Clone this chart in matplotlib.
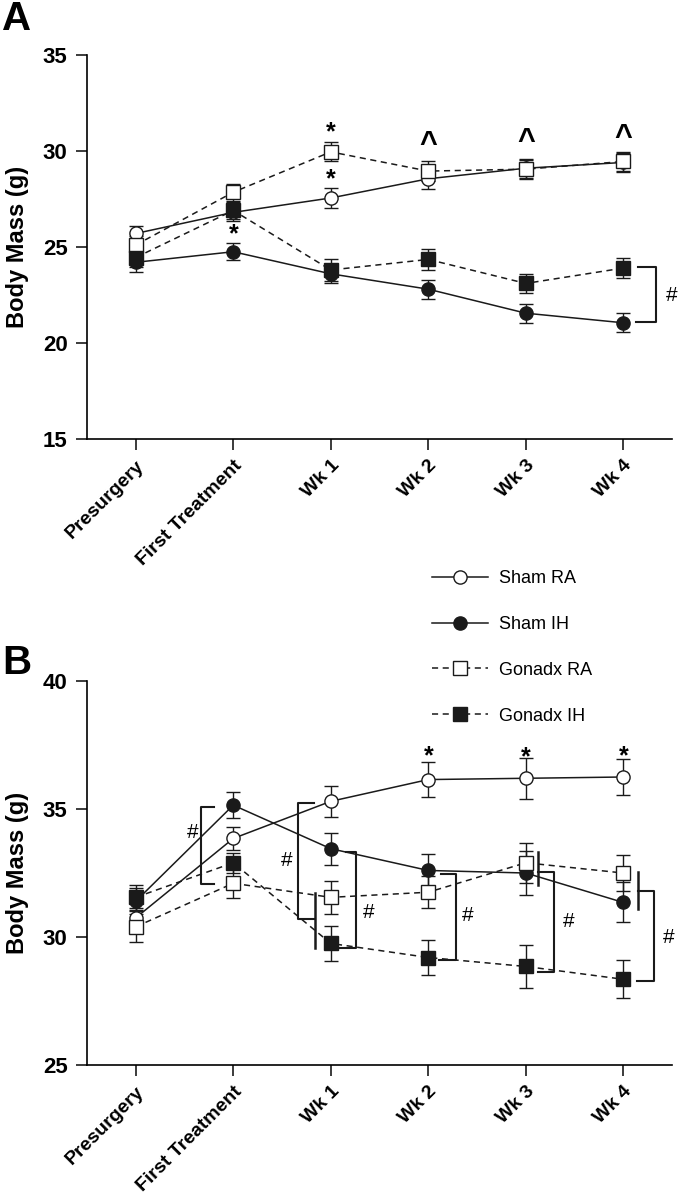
import matplotlib
matplotlib.use('Agg')
import matplotlib.pyplot as plt
from matplotlib.lines import Line2D

plt.rcParams['font.family'] = ['Liberation Sans', 'DejaVu Sans']

categories = ['Presurgery', 'First Treatment', 'Wk 1', 'Wk 2', 'Wk 3', 'Wk 4']
series_names = ['Sham RA', 'Sham IH', 'Gonadx RA', 'Gonadx IH']

# panel A body mass (g) and SEM
a_sham_ra = [25.7, 26.8, 27.55, 28.55, 29.1, 29.4]
a_sham_ih = [24.2, 24.75, 23.6, 22.8, 21.55, 21.05]
a_gon_ra = [25.1, 27.85, 29.95, 28.95, 29.05, 29.45]
a_gon_ih = [24.45, 26.9, 23.8, 24.35, 23.1, 23.9]
a_sham_ra_err = [0.4, 0.45, 0.5, 0.55, 0.5, 0.5]
a_sham_ih_err = [0.5, 0.45, 0.5, 0.5, 0.5, 0.5]
a_gon_ra_err = [0.45, 0.45, 0.5, 0.5, 0.5, 0.5]
a_gon_ih_err = [0.5, 0.45, 0.55, 0.55, 0.5, 0.5]

# panel B body mass (g) and SEM
b_sham_ra = [30.75, 33.85, 35.3, 36.15, 36.2, 36.25]
b_sham_ih = [31.4, 35.15, 33.45, 32.6, 32.5, 31.35]
b_gon_ra = [30.4, 32.1, 31.55, 31.75, 32.9, 32.5]
b_gon_ih = [31.55, 32.9, 29.75, 29.2, 28.85, 28.35]
b_sham_ra_err = [0.4, 0.45, 0.6, 0.7, 0.8, 0.7]
b_sham_ih_err = [0.5, 0.5, 0.62, 0.65, 0.85, 0.78]
b_gon_ra_err = [0.6, 0.58, 0.65, 0.62, 0.78, 0.7]
b_gon_ih_err = [0.5, 0.4, 0.7, 0.7, 0.85, 0.75]

# significance marks (x index, y value, symbol)
a_marks = [(2, 30.95, '*'), (2, 28.5, '*'), (1, 25.65, '*'),
           (3, 30.3, '^'), (4, 30.45, '^'), (5, 30.65, '^')]
b_marks = [(3, 37.05, '*'), (4, 37.0, '*'), (5, 37.05, '*')]

x = list(range(len(categories)))
styles = [dict(marker='o', mfc='white', ls='-'),
          dict(marker='o', mfc='#1a1a1a', ls='-'),
          dict(marker='s', mfc='white', ls=(0, (4, 3))),
          dict(marker='s', mfc='#1a1a1a', ls=(0, (4, 3)))]
ink = '#1a1a1a'

fig = plt.figure(figsize=(6.78, 12.04), dpi=100)
axA = fig.add_axes([0.1283, 0.6354, 0.863, 0.319])
axB = fig.add_axes([0.1283, 0.1154, 0.863, 0.319])


def draw(ax, vals, errs, ylim, yticks):
    handles = []
    for v, e, st in zip(vals, errs, styles):
        ax.errorbar(x, v, yerr=e, fmt='none', ecolor=ink, elinewidth=1.0,
                    capsize=5, capthick=1.0, zorder=2)
        h, = ax.plot(x, v, color=ink, lw=1.1, ls=st['ls'], marker=st['marker'],
                     ms=9.5, mfc=st['mfc'], mec=ink, mew=1.0, zorder=3)
        handles.append(h)
    ax.set_xlim(-0.5, 5.5)
    ax.set_ylim(*ylim)
    ax.set_yticks(yticks)
    ax.set_xticks(x)
    ax.set_xticklabels(categories, rotation=45, ha='right', va='top',
                       rotation_mode='anchor', fontweight='bold', fontsize=14)
    for t in ax.get_yticklabels():
        t.set_fontweight('bold')
        t.set_fontsize(16)
    ax.spines['top'].set_visible(False)
    ax.spines['right'].set_visible(False)
    ax.spines['left'].set_linewidth(1.2)
    ax.spines['bottom'].set_linewidth(1.2)
    ax.tick_params(axis='both', length=8, width=1.2, color=ink)
    ax.tick_params(axis='x', pad=5)
    ax.tick_params(axis='y', pad=6)
    ax.set_ylabel('Body Mass (g)', fontsize=17, fontweight='bold')
    ax.yaxis.set_label_coords(-0.099, 0.5)
    return handles


draw(axA, [a_sham_ra, a_sham_ih, a_gon_ra, a_gon_ih],
     [a_sham_ra_err, a_sham_ih_err, a_gon_ra_err, a_gon_ih_err],
     (15, 35), [15, 20, 25, 30, 35])
handles = draw(axB, [b_sham_ra, b_sham_ih, b_gon_ra, b_gon_ih],
               [b_sham_ra_err, b_sham_ih_err, b_gon_ra_err, b_gon_ih_err],
               (25, 40), [25, 30, 35, 40])

for xi, yi, s in a_marks:
    axA.text(xi, yi, s, ha='center', va='center',
             fontsize=18 if s == '*' else 22, fontweight='bold')
for xi, yi, s in b_marks:
    axB.text(xi, yi, s, ha='center', va='center', fontsize=18, fontweight='bold')


def seg(ax, xs, ys, lw=1.5):
    ax.plot(xs, ys, color=ink, lw=lw, clip_on=False, zorder=4)


# panel A bracket
seg(axA, [5.15, 5.34, 5.34, 5.13], [23.93, 23.93, 21.07, 21.07])
axA.text(5.5, 22.45, '#', ha='center', va='center', fontsize=15)

# panel B brackets
seg(axB, [0.80, 0.67, 0.67, 0.80], [35.08, 35.08, 32.07, 32.07])
axB.text(0.58, 34.1, '#', ha='center', va='center', fontsize=15)
seg(axB, [1.83, 1.66, 1.66, 1.83], [35.23, 35.23, 30.70, 30.70])
seg(axB, [1.84, 1.84], [31.72, 29.57], lw=1.8)
axB.text(1.55, 33.0, '#', ha='center', va='center', fontsize=15)
seg(axB, [2.16, 2.26, 2.26, 2.09], [33.32, 33.32, 29.57, 29.57])
axB.text(2.39, 30.94, '#', ha='center', va='center', fontsize=15)
seg(axB, [3.13, 3.28, 3.28, 3.11], [32.46, 32.46, 29.1, 29.1])
axB.text(3.40, 30.86, '#', ha='center', va='center', fontsize=15)
seg(axB, [4.12, 4.12], [33.32, 32.03], lw=1.8)
seg(axB, [4.12, 4.29, 4.29, 4.12], [32.54, 32.54, 28.63, 28.63])
axB.text(4.44, 30.59, '#', ha='center', va='center', fontsize=15)
seg(axB, [5.15, 5.15], [32.54, 31.09], lw=1.8)
seg(axB, [5.15, 5.31, 5.31, 5.14], [31.8, 31.8, 28.28, 28.28])
axB.text(5.46, 30.0, '#', ha='center', va='center', fontsize=15)

# panel letters
fig.text(0.003, 0.984, 'A', fontsize=29, fontweight='bold', va='center', ha='left')
fig.text(0.003, 0.449, 'B', fontsize=29, fontweight='bold', va='center', ha='left')

# legend
leg_handles = [Line2D([], [], color=ink, lw=1.1, ls=st['ls'], marker=st['marker'],
                      ms=9.5, mfc=st['mfc'], mec=ink) for st in styles]
fig.legend(leg_handles, series_names, loc='upper left',
           bbox_to_anchor=(432 / 678, 1 - 570 / 1204), frameon=False,
           fontsize=13, handlelength=3.1, handletextpad=0.6, labelspacing=1.6,
           borderpad=0, borderaxespad=0)

fig.savefig('out.png', dpi=100)
